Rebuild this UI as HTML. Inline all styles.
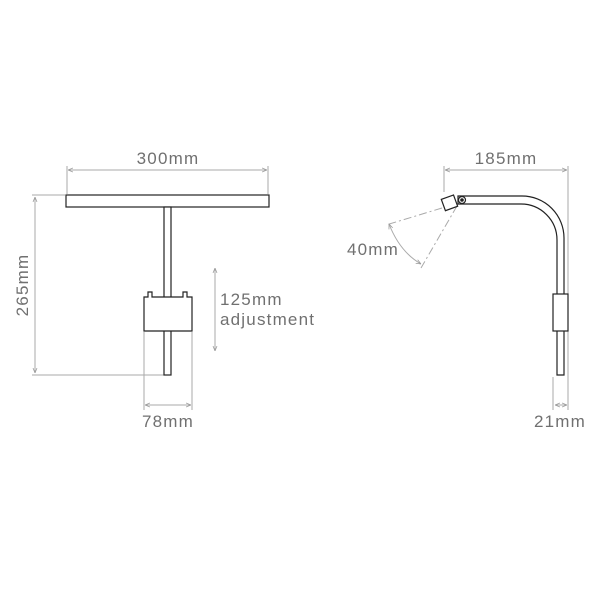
<!DOCTYPE html>
<html><head><style>
body{margin:0;background:#fff;}
svg text{font-family:"Liberation Sans",sans-serif;fill:#707070;font-size:17px;letter-spacing:1.2px;}
</style></head><body>
<svg width="600" height="600" viewBox="0 0 600 600" xmlns="http://www.w3.org/2000/svg">
<defs>
<marker id="a" viewBox="0 0 10 10" refX="10" refY="5" markerWidth="5" markerHeight="5" orient="auto-start-reverse"><path d="M0,1 L10,5 L0,9" fill="none" stroke="#999" stroke-width="1.5"/></marker>
</defs>
<g stroke="#aaa" stroke-width="1" fill="none">
<line x1="67" y1="166" x2="67" y2="194"/>
<line x1="268" y1="166" x2="268" y2="194"/>
<line x1="68" y1="170" x2="267" y2="170" marker-start="url(#a)" marker-end="url(#a)"/>
<line x1="32" y1="195" x2="65" y2="195"/>
<line x1="32" y1="375" x2="164" y2="375"/>
<line x1="35" y1="197" x2="35" y2="373" marker-start="url(#a)" marker-end="url(#a)"/>
<line x1="144" y1="332" x2="144" y2="410"/>
<line x1="192" y1="332" x2="192" y2="410"/>
<line x1="145" y1="405" x2="191" y2="405" marker-start="url(#a)" marker-end="url(#a)"/>
<line x1="215" y1="268" x2="215" y2="351" marker-start="url(#a)" marker-end="url(#a)"/>
<line x1="444" y1="166" x2="444" y2="192"/>
<line x1="568" y1="166" x2="568" y2="410"/>
<line x1="445" y1="170" x2="567" y2="170" marker-start="url(#a)" marker-end="url(#a)"/>
<line x1="553" y1="377" x2="553" y2="410"/>
<line x1="555" y1="405" x2="567" y2="405" marker-start="url(#a)" marker-end="url(#a)"/>
<line x1="442" y1="208" x2="386" y2="225" stroke-dasharray="8,3,2,3"/>
<line x1="457" y1="206" x2="421" y2="268" stroke-dasharray="8,3,2,3"/>
<path d="M389,224 Q400,252 421,264" marker-start="url(#a)" marker-end="url(#a)"/>
</g>
<g stroke="#222" stroke-width="1.2" fill="#fff">
<rect x="66" y="195" width="203" height="12"/>
<rect x="164" y="207" width="7" height="168"/>
<path d="M144,297 L148,297 L148,292 L152,292 L152,297 L183,297 L183,292 L187,292 L187,297 L192,297 L192,331 L144,331 Z"/>
<path d="M458,196 L522,196 A42,42 0 0 1 564,238 L564,375 L557,375 L557,240 A36,36 0 0 0 521,204 L458,204 Z"/>
<rect x="553" y="294" width="15" height="37"/>
<rect x="443" y="197" width="13" height="12" transform="rotate(-20 449 203)"/>
<circle cx="462" cy="200" r="3.5"/>
<circle cx="462" cy="200" r="1.2" fill="#222"/>
</g>
<text x="168" y="164" text-anchor="middle">300mm</text>
<text x="0" y="0" text-anchor="middle" transform="translate(28,285) rotate(-90)">265mm</text>
<text x="168" y="427" text-anchor="middle">78mm</text>
<text x="220" y="305">125mm</text>
<text x="220" y="325">adjustment</text>
<text x="506" y="164" text-anchor="middle">185mm</text>
<text x="347" y="255">40mm</text>
<text x="586" y="427" text-anchor="end">21mm</text>
</svg>
</body></html>
